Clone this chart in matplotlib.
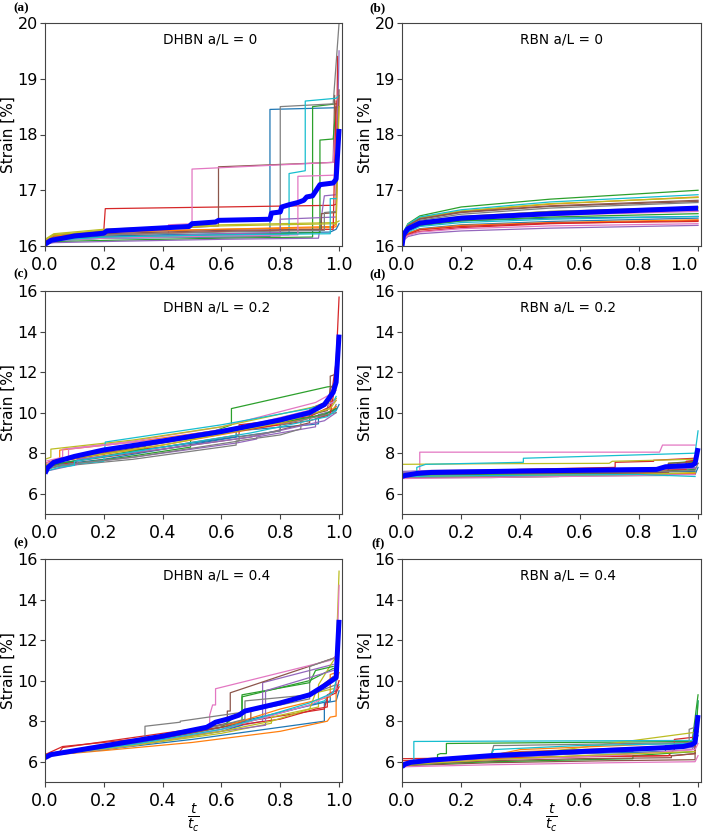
import matplotlib
matplotlib.use("Agg")
import matplotlib.pyplot as plt

# ---------------- data ----------------
# panel (a): DHBN a/L = 0   -- each run is a list of (t/tc, strain %) knots
a_runs = [
    [(0,16.05),(0.03,16.1),(0.2,16.14),(0.6,16.16),(0.765,16.17),(0.765,18.45),(0.99,18.48),(1.0,18.5)],
    [(0,16.1),(0.03,16.2),(0.2,16.26),(0.6,16.3),(0.98,16.33),(0.99,16.35),(1.0,18.7)],
    [(0,16.04),(0.03,16.08),(0.2,16.1),(0.6,16.14),(0.91,16.16),(0.91,18.5),(0.99,18.55)],
    [(0,16.08),(0.03,16.18),(0.2,16.28),(0.205,16.67),(0.6,16.7),(0.98,16.73),(0.99,16.75),(0.995,19.4)],
    [(0,16.03),(0.03,16.06),(0.2,16.08),(0.6,16.12),(0.93,16.14),(0.95,16.9),(0.99,16.92),(1.0,19.5)],
    [(0,16.1),(0.03,16.2),(0.2,16.25),(0.59,16.36),(0.59,17.42),(0.98,17.5),(0.985,18.7)],
    [(0,16.06),(0.03,16.12),(0.2,16.16),(0.42,16.2),(0.42,16.38),(0.5,16.4),(0.5,17.38),(0.98,17.5),(0.99,18.5)],
    [(0,16.05),(0.03,16.1),(0.2,16.14),(0.8,16.18),(0.8,18.5),(0.98,18.55),(1.0,20.0)],
    [(0,16.12),(0.03,16.22),(0.2,16.3),(0.6,16.38),(0.99,16.42),(1.0,16.45)],
    [(0,16.05),(0.03,16.1),(0.2,16.14),(0.83,16.2),(0.83,17.3),(0.885,17.35),(0.885,18.6),(0.99,18.65),(1.0,18.7)],
    [(0,16.06),(0.03,16.12),(0.2,16.18),(0.6,16.22),(0.97,16.25),(0.99,16.3),(1.0,16.4)],
    [(0,16.09),(0.03,16.18),(0.2,16.24),(0.6,16.3),(0.98,16.35),(0.99,16.4)],
    [(0,16.07),(0.03,16.12),(0.2,16.16),(0.6,16.2),(0.935,16.24),(0.935,17.9),(0.98,17.92),(0.99,18.5)],
    [(0,16.06),(0.03,16.14),(0.2,16.2),(0.6,16.26),(0.98,16.3),(0.99,18.6)],
    [(0,16.05),(0.03,16.1),(0.2,16.15),(0.6,16.22),(0.8,16.24),(0.8,16.48),(0.99,16.52)],
    [(0,16.08),(0.03,16.16),(0.2,16.22),(0.6,16.28),(0.94,16.3),(0.94,16.58),(0.99,16.6),(1.0,18.8)],
    [(0,16.04),(0.03,16.1),(0.2,16.14),(0.6,16.18),(0.86,16.2),(0.86,17.25),(0.98,17.27)],
    [(0,16.07),(0.03,16.14),(0.2,16.2),(0.6,16.25),(0.95,16.28),(0.95,16.6),(0.99,16.62)],
    [(0,16.11),(0.03,16.2),(0.2,16.28),(0.6,16.36),(0.99,16.4),(1.0,18.5)],
    [(0,16.05),(0.03,16.1),(0.2,16.16),(0.6,16.2),(0.97,16.22),(0.97,16.85),(0.99,16.85)],
]
a_mean = [(0,16.03),(0.02,16.1),(0.1,16.18),(0.2,16.23),(0.21,16.27),(0.49,16.35),(0.5,16.4),
          (0.58,16.43),(0.59,16.46),(0.765,16.48),(0.77,16.59),(0.8,16.61),(0.805,16.7),(0.83,16.74),
          (0.86,16.78),(0.88,16.82),(0.89,16.88),(0.91,16.9),(0.92,16.98),(0.935,17.1),(0.98,17.13),
          (0.99,17.2),(1.0,18.1)]

# panel (b): RBN a/L = 0  (smooth runs, common time knots)
b_t = [0, 0.005, 0.02, 0.06, 0.2, 0.5, 1.0]
b_runs = [
    [16.0,16.15,16.27,16.37,16.45,16.5,16.53],
    [16.0,16.22,16.37,16.5,16.62,16.75,16.88],
    [16.0,16.25,16.4,16.54,16.7,16.84,17.0],
    [16.0,16.12,16.2,16.26,16.33,16.4,16.46],
    [16.0,16.1,16.17,16.22,16.27,16.32,16.37],
    [16.0,16.22,16.36,16.48,16.6,16.71,16.8],
    [16.0,16.18,16.3,16.39,16.47,16.55,16.62],
    [16.0,16.2,16.34,16.46,16.57,16.68,16.78],
    [16.0,16.23,16.38,16.51,16.63,16.76,16.87],
    [16.0,16.24,16.39,16.52,16.65,16.79,16.92],
    [16.0,16.14,16.23,16.31,16.38,16.44,16.5],
    [16.0,16.14,16.23,16.3,16.37,16.42,16.47],
    [16.0,16.17,16.28,16.37,16.45,16.52,16.58],
    [16.0,16.13,16.21,16.29,16.35,16.41,16.44],
    [16.0,16.19,16.31,16.42,16.5,16.58,16.64],
    [16.0,16.22,16.37,16.49,16.61,16.72,16.82],
    [16.0,16.11,16.19,16.25,16.31,16.36,16.4],
    [16.0,16.19,16.32,16.43,16.52,16.62,16.7],
    [16.0,16.2,16.33,16.44,16.53,16.62,16.68],
    [16.0,16.15,16.25,16.35,16.42,16.48,16.53],
]
b_mean = [16.0,16.2,16.31,16.41,16.5,16.58,16.68]

# panel (c): DHBN a/L = 0.2
c_runs = [
    [(0,7.2),(0.02,7.4),(0.2,7.7),(0.65,8.8),(0.65,9.1),(0.9,9.4),(0.93,9.45),(0.93,9.9),(0.99,10.1),(1.0,10.4)],
    [(0,7.5),(0.05,7.75),(0.05,8.15),(0.3,8.55),(0.6,9.15),(0.9,9.9),(0.97,10.2),(0.97,10.5),(0.99,10.7)],
    [(0,7.2),(0.05,7.4),(0.27,7.8),(0.495,8.3),(0.495,8.65),(0.634,9.4),(0.634,10.2),(0.96,11.27),(0.98,11.3),(0.99,11.5)],
    [(0,7.3),(0.11,7.6),(0.11,7.9),(0.4,8.3),(0.66,8.9),(0.66,9.4),(0.9,9.8),(0.97,10.3),(0.98,11.5),(0.99,12.5),(1.0,15.7)],
    [(0,7.2),(0.05,7.4),(0.3,7.8),(0.65,8.5),(0.72,8.7),(0.72,8.8),(0.92,9.3),(0.92,9.7),(0.98,10.0),(0.99,10.3)],
    [(0,7.3),(0.05,7.5),(0.4,8.2),(0.7,8.8),(0.9,9.5),(0.9,10.2),(0.97,10.6),(0.97,11.8),(0.99,11.9)],
    [(0,7.6),(0.06,7.8),(0.06,8.2),(0.3,8.6),(0.6,9.3),(0.92,10.5),(0.97,10.9),(0.99,11.1)],
    [(0,7.2),(0.05,7.35),(0.3,7.7),(0.65,8.4),(0.65,8.6),(0.8,8.9),(0.87,9.2),(0.87,9.6),(0.98,10.1),(0.99,10.4)],
    [(0,7.7),(0.02,7.8),(0.02,8.2),(0.3,8.65),(0.6,9.3),(0.92,10.3),(0.98,10.5),(0.99,10.7)],
    [(0,7.2),(0.05,7.4),(0.2,7.6),(0.205,8.55),(0.6,9.4),(0.9,10.2),(0.98,10.5),(0.99,10.8)],
    [(0,7.3),(0.05,7.5),(0.4,8.3),(0.7,8.9),(0.8,9.1),(0.8,9.5),(0.95,9.9),(0.99,10.2)],
    [(0,7.4),(0.05,7.6),(0.4,8.4),(0.75,9.3),(0.95,9.9),(0.97,9.9),(0.97,10.1),(0.99,10.3)],
    [(0,7.3),(0.05,7.5),(0.34,8.2),(0.34,8.4),(0.6,9.0),(0.95,9.9),(0.99,10.2)],
    [(0,7.5),(0.05,7.7),(0.3,8.3),(0.6,9.0),(0.9,9.6),(0.97,9.9),(0.98,10.8),(0.99,12.3)],
    [(0,7.1),(0.11,7.45),(0.11,7.7),(0.4,8.2),(0.7,8.8),(0.95,9.6),(0.99,10.0)],
    [(0,7.4),(0.05,7.6),(0.4,8.5),(0.7,9.2),(0.96,10.1),(0.97,11.2),(0.99,11.5)],
    [(0,7.5),(0.08,7.8),(0.08,8.2),(0.4,8.7),(0.7,9.4),(0.95,10.3),(0.99,10.6)],
    [(0,7.2),(0.05,7.4),(0.3,7.8),(0.66,8.6),(0.66,8.8),(0.8,9.1),(0.8,9.4),(0.99,10.0)],
    [(0,7.4),(0.05,7.65),(0.4,8.4),(0.8,9.5),(0.97,10.2),(0.99,10.6)],
    [(0,7.1),(0.05,7.3),(0.1,7.4),(0.1,7.6),(0.4,8.3),(0.7,9.0),(0.96,9.8),(0.99,10.1)],
]
c_mean = [(0,7.0),(0.01,7.3),(0.03,7.55),(0.1,7.84),(0.2,8.16),(0.4,8.6),(0.6,9.07),(0.8,9.64),
          (0.9,10.0),(0.95,10.4),(0.98,11.0),(0.99,11.5),(1.0,13.85)]

# panel (d): RBN a/L = 0.2
d_runs = [
    [(0,6.8),(0.3,6.9),(0.7,6.95),(0.99,6.95),(1.0,7.3)],
    [(0,6.9),(0.1,6.95),(0.5,7.0),(0.93,7.1),(0.93,7.5),(0.99,7.6)],
    [(0,6.8),(0.3,6.8),(0.53,6.85),(0.53,6.9),(0.9,7.0),(0.9,7.5),(0.99,7.6)],
    [(0,6.9),(0.4,7.2),(0.72,7.3),(0.72,7.55),(0.85,7.6),(0.85,7.65),(0.99,7.75)],
    [(0,7.1),(0.1,7.15),(0.5,7.2),(0.99,7.3)],
    [(0,6.9),(0.3,6.95),(0.9,7.0),(0.9,7.3),(0.99,7.4),(1.0,7.5)],
    [(0,6.9),(0.06,7.0),(0.06,8.05),(0.87,8.05),(0.88,8.4),(0.99,8.4)],
    [(0,6.8),(0.3,6.85),(0.9,6.9),(0.9,7.2),(0.99,7.25)],
    [(0,7.45),(0.3,7.48),(0.7,7.5),(0.71,7.6),(0.99,7.7)],
    [(0,6.9),(0.05,7.0),(0.05,7.3),(0.08,7.45),(0.41,7.55),(0.41,7.75),(0.99,8.0),(1.0,9.1)],
    [(0,6.95),(0.3,7.0),(0.7,7.05),(0.99,7.1)],
    [(0,6.85),(0.3,6.9),(0.7,6.95),(0.99,7.0)],
    [(0,6.9),(0.3,6.95),(0.8,7.05),(0.99,7.2)],
    [(0,7.0),(0.3,7.05),(0.8,7.15),(0.96,7.2),(0.96,7.6),(0.99,7.65)],
    [(0,7.05),(0.3,7.1),(0.8,7.2),(0.99,7.25)],
    [(0,6.95),(0.3,7.0),(0.9,7.05),(0.9,7.5),(0.99,7.55)],
    [(0,6.75),(0.3,6.8),(0.8,6.9),(0.99,6.95)],
    [(0,7.0),(0.3,7.05),(0.9,7.1),(0.99,7.15),(1.0,7.5)],
    [(0,6.85),(0.3,6.9),(0.8,6.95),(0.99,7.05)],
    [(0,6.85),(0.3,6.9),(0.8,6.95),(0.99,6.85)],
]
d_mean = [(0,6.85),(0.01,6.9),(0.05,7.0),(0.1,7.05),(0.4,7.12),(0.86,7.2),(0.89,7.33),
          (0.98,7.4),(0.99,7.5),(1.0,8.25)]

# panel (e): DHBN a/L = 0.4
e_runs = [
    [(0,6.3),(0.2,6.6),(0.5,7.1),(0.7,7.5),(0.95,8.0),(0.95,8.9),(0.99,9.0),(1.0,9.5)],
    [(0,6.3),(0.2,6.55),(0.5,6.95),(0.8,7.5),(0.96,8.0),(0.97,8.2),(0.99,8.25),(0.99,9.9),(1.0,10.4)],
    [(0,6.3),(0.2,6.7),(0.48,7.5),(0.67,8.0),(0.67,9.2),(0.9,10.0),(0.98,10.6),(0.99,10.6)],
    [(0,6.35),(0.05,6.5),(0.06,6.7),(0.4,7.4),(0.6,7.8),(0.95,8.6),(0.96,9.2),(0.99,9.4),(1.0,9.7)],
    [(0,6.3),(0.3,6.8),(0.6,7.6),(0.74,8.0),(0.74,9.9),(0.98,10.8)],
    [(0,6.3),(0.3,6.9),(0.62,7.9),(0.62,8.5),(0.63,8.5),(0.63,9.4),(0.98,11.1),(0.99,11.2)],
    [(0,6.3),(0.3,6.9),(0.56,7.6),(0.56,8.3),(0.57,8.8),(0.58,8.8),(0.58,9.6),(0.97,11.0),(0.99,11.2)],
    [(0,6.3),(0.2,6.6),(0.34,6.9),(0.34,7.75),(0.46,7.95),(0.46,8.0),(0.7,8.5),(0.9,9.1),(0.9,10.7),(0.98,11.1)],
    [(0,6.3),(0.3,6.8),(0.6,7.4),(0.77,7.9),(0.77,8.2),(0.93,8.7),(0.93,9.8),(0.99,11.2),(1.0,15.4)],
    [(0,6.3),(0.2,6.7),(0.5,7.4),(0.7,8.0),(0.95,9.0),(0.99,9.6),(1.0,9.8)],
    [(0,6.3),(0.3,6.9),(0.6,7.5),(0.67,7.8),(0.67,8.0),(0.97,9.0),(0.97,9.4),(0.99,9.5)],
    [(0,6.3),(0.3,6.9),(0.6,7.7),(0.8,8.6),(0.97,9.2),(0.97,10.3),(0.99,10.4)],
    [(0,6.35),(0.3,7.0),(0.6,7.7),(0.67,8.5),(0.67,9.3),(0.9,9.9),(0.92,10.5),(0.98,10.7)],
    [(0,6.35),(0.06,6.75),(0.3,7.1),(0.5,7.5),(0.8,8.1),(0.92,8.6),(0.96,8.7),(0.96,9.3),(0.99,9.5),(1.0,10.0)],
    [(0,6.3),(0.3,6.8),(0.6,7.5),(0.75,7.8),(0.75,9.5),(0.98,10.5),(0.99,10.6)],
    [(0,6.3),(0.3,6.85),(0.6,7.7),(0.7,8.0),(0.7,8.5),(0.9,9.3),(0.98,10.2)],
    [(0,6.3),(0.3,6.8),(0.6,7.6),(0.9,8.8),(0.97,9.3),(0.99,9.6),(1.0,14.7)],
    [(0,6.3),(0.3,6.9),(0.6,7.8),(0.68,8.1),(0.68,9.0),(0.9,9.3),(0.99,9.8)],
    [(0,6.3),(0.3,6.8),(0.6,7.5),(0.77,8.0),(0.9,8.6),(0.92,9.4),(0.98,9.6)],
    [(0,6.3),(0.3,6.85),(0.6,7.6),(0.9,8.9),(0.98,9.4),(0.99,10.0)],
]
e_mean = [(0,6.2),(0.02,6.35),(0.2,6.78),(0.4,7.26),(0.55,7.7),(0.58,7.95),(0.62,8.1),(0.66,8.3),
          (0.68,8.5),(0.8,8.9),(0.9,9.3),(0.95,9.75),(0.99,10.15),(1.0,13.0)]

# panel (f): RBN a/L = 0.4
f_runs = [
    [(0,5.9),(0.3,6.3),(0.6,6.5),(0.78,6.5),(0.78,6.6),(0.99,6.9),(1.0,7.3)],
    [(0,5.8),(0.05,5.9),(0.3,6.35),(0.4,6.5),(0.6,6.6),(0.99,6.8)],
    [(0,5.8),(0.12,6.1),(0.12,6.35),(0.13,6.4),(0.15,6.4),(0.15,6.9),(0.98,7.0),(1.0,9.3)],
    [(0,6.15),(0.3,6.2),(0.6,6.25),(0.9,6.3),(0.92,6.6),(0.92,7.1),(0.98,7.2)],
    [(0,5.9),(0.3,6.1),(0.7,6.35),(0.98,6.6),(0.99,6.9)],
    [(0,5.8),(0.3,5.95),(0.7,6.05),(0.99,6.1),(0.99,7.0),(1.0,7.5)],
    [(0,5.75),(0.3,5.85),(0.7,5.95),(0.99,6.0),(1.0,6.3)],
    [(0,5.9),(0.3,6.3),(0.6,6.5),(0.9,6.7),(0.97,6.8),(0.97,7.6),(0.99,7.7)],
    [(0,5.8),(0.3,6.2),(0.5,6.5),(0.99,7.45)],
    [(0,5.9),(0.04,6.0),(0.04,7.0),(0.99,7.05),(1.0,9.0)],
    [(0,5.95),(0.3,6.2),(0.6,6.4),(0.89,6.5),(0.89,6.8),(0.99,6.9)],
    [(0,5.9),(0.3,6.3),(0.4,6.6),(0.99,6.95)],
    [(0,5.85),(0.3,6.0),(0.78,6.15),(0.78,6.3),(0.99,6.5),(1.0,9.0)],
    [(0,6.05),(0.3,6.15),(0.6,6.25),(0.92,6.3),(0.99,6.4),(0.99,7.0)],
    [(0,5.9),(0.3,6.2),(0.6,6.4),(0.99,6.7)],
    [(0,5.85),(0.3,6.05),(0.6,6.15),(0.91,6.2),(0.91,6.3),(0.99,6.4),(0.99,7.2)],
    [(0,5.9),(0.3,6.1),(0.7,6.3),(0.99,6.6),(1.0,6.9)],
    [(0,5.9),(0.3,6.3),(0.31,6.8),(0.35,6.8),(0.99,6.95)],
    [(0,5.85),(0.3,6.1),(0.6,6.3),(0.99,6.5)],
    [(0,5.9),(0.3,6.3),(0.31,6.6),(0.6,6.8),(0.99,6.9)],
]
f_mean = [(0,5.75),(0.01,5.88),(0.03,5.97),(0.1,6.08),(0.3,6.3),(0.6,6.5),(0.9,6.7),(0.95,6.75),
          (0.98,6.85),(0.99,6.95),(1.0,8.3)]

panel_labels = ["(a)", "(b)", "(c)", "(d)", "(e)", "(f)"]
panel_titles = ["DHBN a/L = 0", "RBN a/L = 0", "DHBN a/L = 0.2", "RBN a/L = 0.2",
                "DHBN a/L = 0.4", "RBN a/L = 0.4"]
xticks = [0.0, 0.2, 0.4, 0.6, 0.8, 1.0]
yticks_top = [16, 17, 18, 19, 20]
yticks_low = [6, 8, 10, 12, 14, 16]

# ---------------- figure ----------------
fig = plt.figure(figsize=(7.08, 8.34), dpi=100)
W, H = 708, 834
lefts = [45, 402]
rights = [342, 701]
tops = [23, 291, 559]
bottoms = [246, 514, 782]

tab = plt.rcParams['axes.prop_cycle'].by_key()['color']


def make_ax(r, c):
    return fig.add_axes([lefts[c] / W, 1 - bottoms[r] / H,
                         (rights[c] - lefts[c]) / W, (bottoms[r] - tops[r]) / H])


def split(run):
    return [p[0] for p in run], [p[1] for p in run]


axes = [make_ax(r, c) for r in range(3) for c in range(2)]

for i, (ax, runs, mean) in enumerate(zip(axes, [a_runs, None, c_runs, d_runs, e_runs, f_runs],
                                          [a_mean, None, c_mean, d_mean, e_mean, f_mean])):
    if i == 1:
        for k, ys in enumerate(b_runs):
            ax.plot(b_t, ys, color=tab[k % 10], lw=0.9)
        ax.plot(b_t, b_mean, color='#0000ff', lw=3.6, solid_capstyle='butt')
    else:
        for k, run in enumerate(runs):
            x, y = split(run)
            ax.plot(x, y, color=tab[k % 10], lw=0.9)
        x, y = split(mean)
        ax.plot(x, y, color='#0000ff', lw=3.6, solid_capstyle='butt')

    ax.set_xlim(0, 1.01)
    if i < 2:
        ax.set_ylim(16, 20)
        ax.set_yticks(yticks_top)
    else:
        ax.set_ylim(5, 16)
        ax.set_yticks(yticks_low)
    ax.set_xticks(xticks)
    ax.set_xticklabels([f"{v:.1f}" for v in xticks])
    ax.tick_params(labelsize=12.5, length=3.5, color='#444444')
    ax.tick_params(axis='y', labelsize=11.5, pad=1.5)
    ax.set_ylabel("Strain [%]", fontsize=11)
    ax.yaxis.set_label_coords(-0.098, 0.5)
    for s in ax.spines.values():
        s.set_color('#444444')
    ax.text(0.4 / 1.01, 0.895, panel_titles[i], transform=ax.transAxes,
            ha='left', va='bottom', fontsize=9.8)
    if i % 2 == 1:
        ax.get_xticklabels()[-1].set_horizontalalignment('right')
    if i >= 4:
        ax.set_xlabel(r"$\frac{t}{t_c}$", fontsize=14, va='top')
        ax.xaxis.set_label_coords(0.5, -0.088)

label_pos = [(21, 8), (378, 8), (21, 274), (378, 274), (21, 543), (378, 543)]
for lab, (px, py) in zip(panel_labels, label_pos):
    fig.text(px / W, 1 - py / H, lab, ha='center', va='center', fontsize=9.5,
             fontweight='bold', family='Liberation Serif')

fig.savefig("out.png", dpi=100)
